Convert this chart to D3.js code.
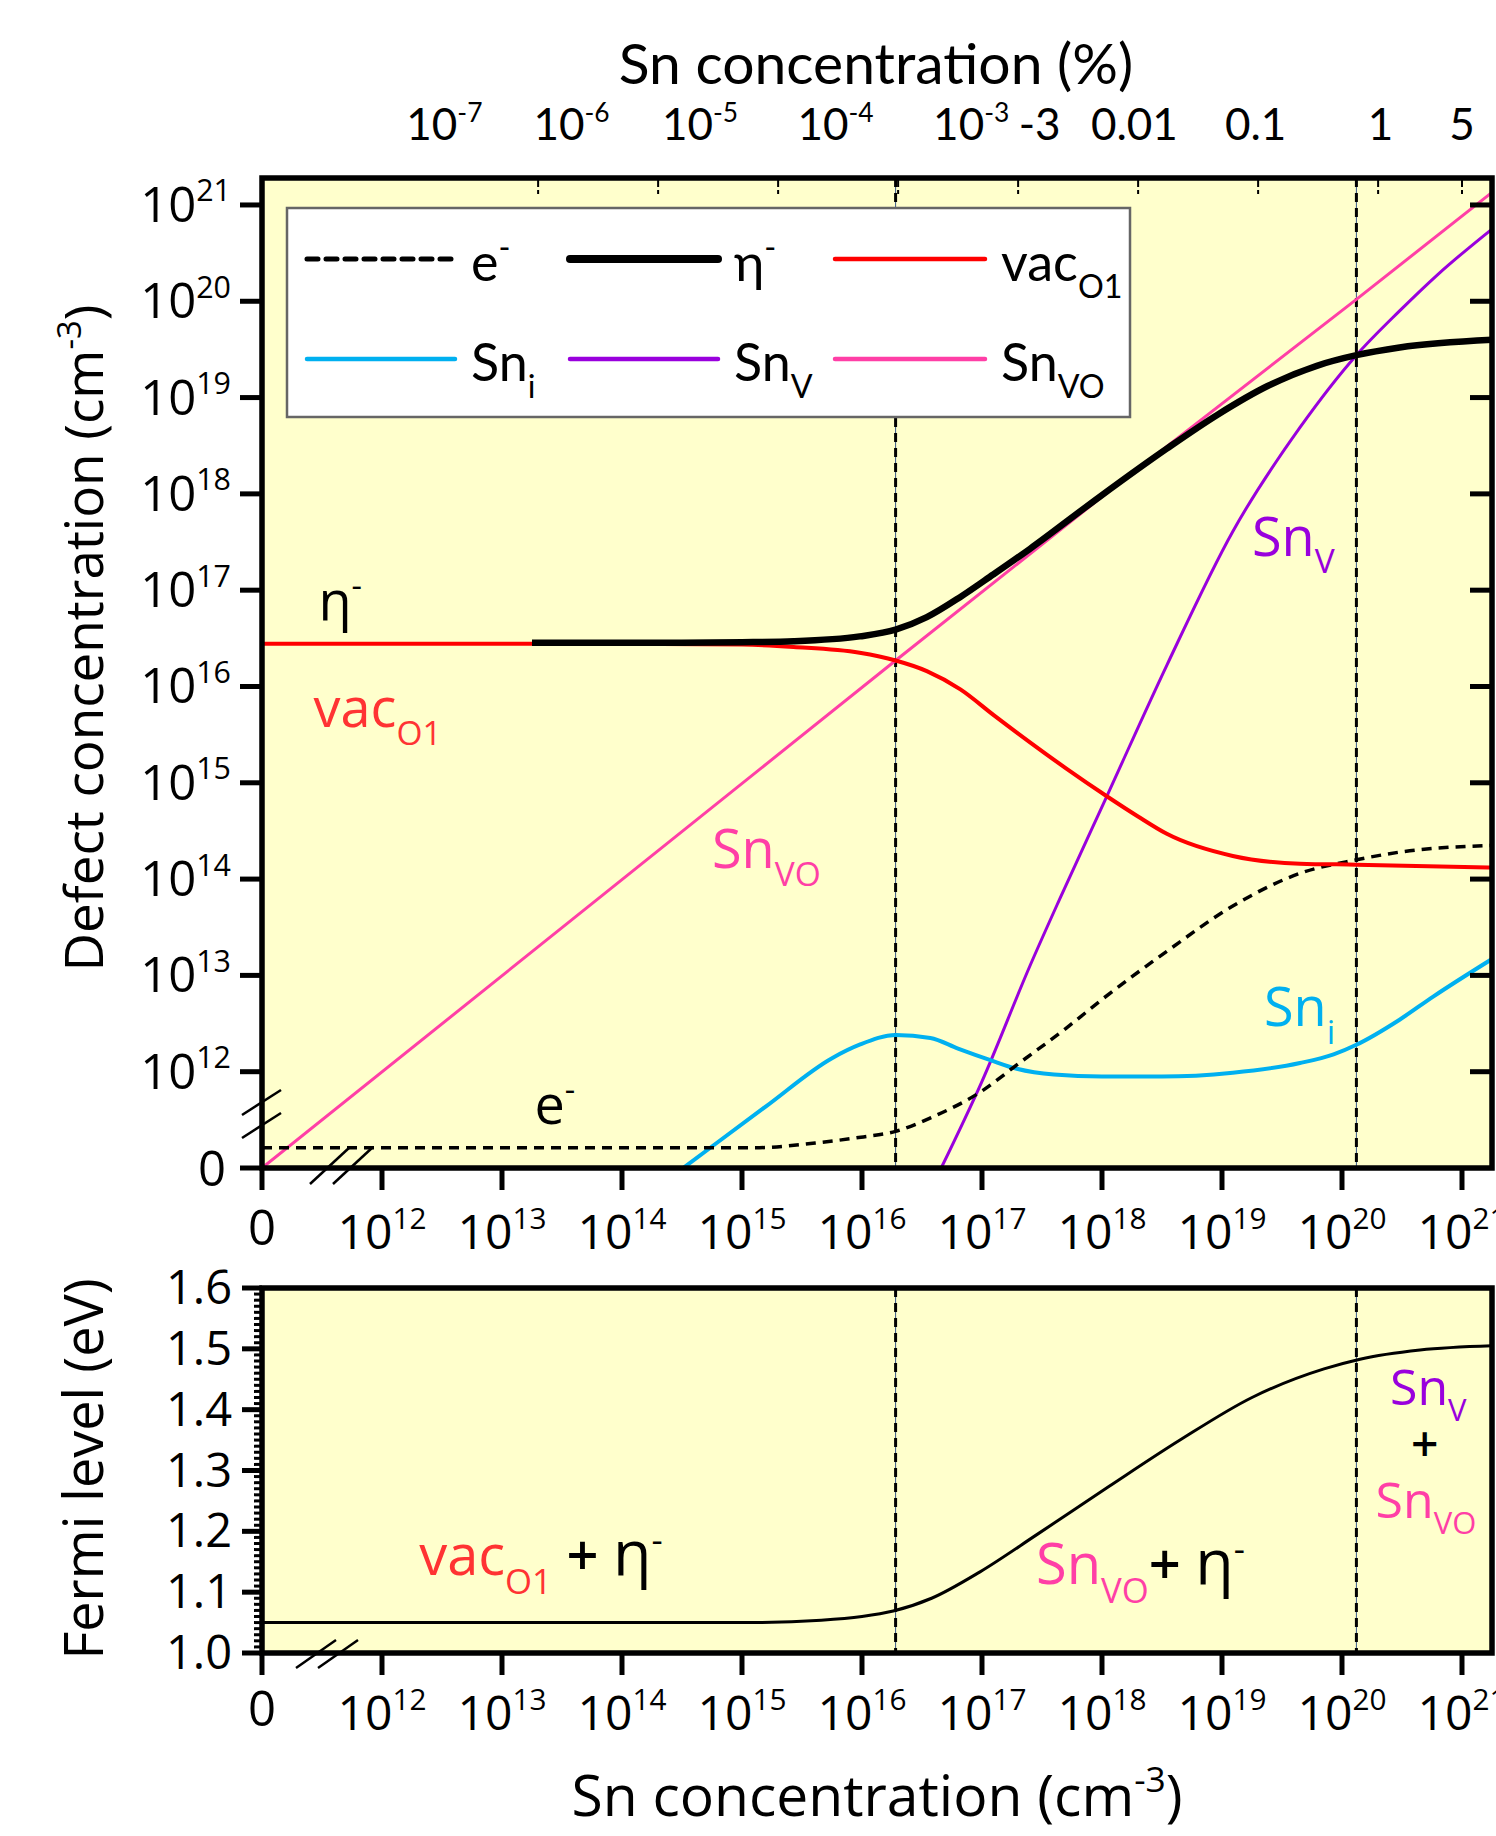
<!DOCTYPE html>
<html><head><meta charset="utf-8">
<script src="https://cdn.jsdelivr.net/npm/d3@7"></script>
<style>body{margin:0;background:#fff;} svg{display:block;}</style>
</head><body>
<svg id="chart" width="1496" height="1836"></svg>
<script>
// ---------------- DATA (log10 values of Sn concentration / defect concentration, cm^-3) ----------------
const xTickExps = [11, 12, 13, 14, 15, 16, 17, 18, 19, 20, 21];   // 11 is labelled "0" (axis break)
const yTickExps = [11, 12, 13, 14, 15, 16, 17, 18, 19, 20, 21];   // 11 is labelled "0"
const fermiTicks = [1.0, 1.1, 1.2, 1.3, 1.4, 1.5, 1.6];
const pctTicks = [1e-7, 1e-6, 1e-5, 1e-4, 1e-3, 0.01, 0.1, 1, 5];   // Sn concentration in %
const pctLabels = [
  {base: "10", sup: "-7", at: 12.52}, {base: "10", sup: "-6", at: 13.58},
  {base: "10", sup: "-5", at: 14.65}, {base: "10", sup: "-4", at: 15.78},
  {base: "10", sup: "-3", at: 16.91}, {base: "-3", sup: "", at: 17.48},
  {base: "0.01", sup: "", at: 18.27}, {base: "0.1", sup: "", at: 19.28},
  {base: "1", sup: "", at: 20.32}, {base: "5", sup: "", at: 21.0}
];
const pctToCm3 = 2e22 / 100;            // 100 % Sn = 2e22 cm^-3
const regimeBounds = [16.28, 20.12];    // dashed vertical lines (log10 Sn)

// series: [log10 Sn, log10 concentration]
const eMinus = [[11,11.21],[15.1,11.21],[15.61,11.26],[15.99,11.32],[16.28,11.38],[16.57,11.52],[17.0,11.8],[17.3,12.08],[17.7,12.45],[18.0,12.75],[18.54,13.25],[19.09,13.72],[19.65,14.06],[20.12,14.2],[20.48,14.28],[21.25,14.35]];
const etaMinus = [[13.25,16.455],[14.5,16.455],[15.0,16.46],[15.43,16.47],[15.98,16.52],[16.28,16.59],[16.54,16.72],[16.82,16.93],[17.09,17.16],[17.4,17.43],[17.98,17.97],[18.54,18.47],[18.96,18.82],[19.38,19.12],[19.79,19.33],[20.12,19.44],[20.48,19.52],[21.25,19.6]];
const vacO1 = [[11,16.445],[14,16.445],[15,16.435],[15.43,16.41],[15.98,16.35],[16.28,16.27],[16.54,16.16],[16.82,15.97],[17.1,15.7],[17.4,15.42],[17.7,15.15],[18.04,14.86],[18.3,14.65],[18.54,14.47],[19.09,14.24],[19.65,14.16],[20.12,14.15],[21.25,14.12]];
const snI = [[14.51,11.0],[14.8,11.27],[15.2,11.64],[15.75,12.14],[15.98,12.28],[16.28,12.38],[16.57,12.35],[16.8,12.24],[17.07,12.12],[17.29,12.03],[17.6,11.97],[18.0,11.95],[18.5,11.95],[19.09,11.99],[19.65,12.09],[19.93,12.18],[20.12,12.28],[20.48,12.54],[20.76,12.78],[21.25,13.17]];
const snV = [[16.66,11.0],[17.0,11.9],[17.4,13.1],[17.65,13.8],[18.04,14.86],[18.54,16.22],[19.09,17.61],[19.65,18.69],[20.12,19.44],[20.48,19.9],[20.8,20.28],[21.25,20.75]];
const snVO = [[11,11],[16.28,16.27],[17.98,17.95],[20.12,20.02],[21.25,21.13]];
const fermi = [[11,1.05],[15.0,1.05],[15.66,1.054],[16.0,1.06],[16.26,1.069],[16.58,1.09],[16.98,1.133],[17.46,1.195],[18.06,1.274],[18.65,1.35],[19.25,1.42],[19.85,1.467],[20.15,1.483],[20.65,1.498],[21.25,1.505]];

// ---------------- LAYOUT ----------------
const SEG = "'Open Sans','Noto Sans',sans-serif";
const CAL = "Lato,'Noto Sans',sans-serif";
const C = {red:"#ff0000", blue:"#00b0f0", purple:"#9900dd", pink:"#ff3fa6", redT:"#ff3333"};
const L = 262, R = 1492;
const T1 = 178, B1 = 1168, T2 = 1288, B2 = 1653;
const P = v => Math.pow(10, v);

const x = d3.scaleLog().domain([P(11), P(21.25)]).range([L, R]);
const y = d3.scaleLog().domain([P(11), P(21.28)]).range([B1, T1]);
const yF = d3.scaleLinear().domain([1.0, 1.6]).range([B2, T2]);

const svg = d3.select("#chart");

function rich(textSel, parts, size) {
  let shift = 0;
  parts.forEach(p => {
    const ts = textSel.append("tspan").text(p.t);
    const target = p.sub ? size * 0.33 : p.sup ? -size * 0.42 : 0;
    ts.attr("dy", target - shift); shift = target;
    if (p.sub || p.sup) ts.attr("font-size", size * (p.k || 0.62));
    else if (p.k) ts.attr("font-size", size * p.k);
    if (p.fill) ts.attr("fill", p.fill);
    if (p.dx) ts.attr("dx", p.dx);
    if (p.bold) ts.attr("font-weight", 600);
  });
  return textSel;
}
function label(g, px, py, parts, size, font, anchor, fill) {
  const t = g.append("text").attr("x", px).attr("y", py)
    .attr("font-family", font).attr("font-size", size)
    .attr("text-anchor", anchor || "start").attr("fill", fill || "#000");
  return rich(t, parts, size);
}

// ---------------- PANEL BACKGROUNDS ----------------
svg.append("rect").attr("x", L).attr("y", T1).attr("width", R - L).attr("height", B1 - T1).attr("fill", "#ffffcc");
svg.append("rect").attr("x", L).attr("y", T2).attr("width", R - L).attr("height", B2 - T2).attr("fill", "#ffffcc");

// regime boundaries
[[T1, B1], [T2, B2]].forEach(([t, b]) => {
  regimeBounds.forEach(v => {
    svg.append("line").attr("x1", x(P(v))).attr("x2", x(P(v))).attr("y1", t).attr("y2", b)
      .attr("stroke", "#3a5a8a").attr("stroke-width", 1);
    svg.append("line").attr("x1", x(P(v))).attr("x2", x(P(v))).attr("y1", t).attr("y2", b)
      .attr("stroke", "#000").attr("stroke-width", 3).attr("stroke-dasharray", "9,6");
  });
});

// ---------------- TOP PANEL CURVES ----------------
svg.append("clipPath").attr("id", "clipTop").append("rect")
  .attr("x", L).attr("y", T1).attr("width", R - L).attr("height", B1 - T1);
const gTop = svg.append("g").attr("clip-path", "url(#clipTop)");

const series = [
  {data: snVO, color: C.pink, w: 3, curve: d3.curveLinear},
  {data: snV, color: C.purple, w: 3},
  {data: snI, color: C.blue, w: 4},
  {data: eMinus, color: "#000", w: 3.5, dash: "10,7"},
  {data: vacO1, color: C.red, w: 4},
  {data: etaMinus, color: "#000", w: 6.5}
];
series.forEach(s => {
  const gen = d3.line().x(d => x(P(d[0]))).y(d => y(P(d[1]))).curve(s.curve || d3.curveMonotoneX);
  gTop.append("path").attr("d", gen(s.data)).attr("fill", "none")
    .attr("stroke", s.color).attr("stroke-width", s.w)
    .attr("stroke-dasharray", s.dash || null).attr("stroke-linejoin", "round");
});

// in-plot labels (top)
label(svg, x(P(11.47)), y(P(16.69)), [{t: "η"}, {t: "-", sup: true, k: 0.6}], 54, SEG);
label(svg, x(P(11.43)), y(P(15.58)), [{t: "vac"}, {t: "O1", sub: true}], 54, SEG, "start", C.redT);
label(svg, x(P(14.75)), y(P(14.11)), [{t: "Sn"}, {t: "VO", sub: true}], 54, SEG, "start", C.pink);
label(svg, x(P(19.25)), y(P(17.36)), [{t: "Sn"}, {t: "V", sub: true}], 54, SEG, "start", C.purple);
label(svg, x(P(19.35)), y(P(12.47)), [{t: "Sn"}, {t: "i", sub: true}], 54, SEG, "start", C.blue);
label(svg, x(P(13.27)), y(P(11.46)), [{t: "e"}, {t: "-", sup: true, k: 0.6}], 54, SEG);

// ---------------- LEGEND ----------------
const legendItems = [
  {name: [{t: "e"}, {t: "-", sup: true}], color: "#000", w: 5, dash: "11,8"},
  {name: [{t: "η"}, {t: "-", sup: true}], color: "#000", w: 8},
  {name: [{t: "vac"}, {t: "O1", sub: true}], color: C.red, w: 4.5},
  {name: [{t: "Sn"}, {t: "i", sub: true}], color: C.blue, w: 4.5},
  {name: [{t: "Sn"}, {t: "V", sub: true}], color: C.purple, w: 4.5},
  {name: [{t: "Sn"}, {t: "VO", sub: true}], color: C.pink, w: 4.5}
];
const lg = svg.append("g");
lg.append("rect").attr("x", 287).attr("y", 208).attr("width", 843).attr("height", 209)
  .attr("fill", "#fff").attr("stroke", "#666").attr("stroke-width", 2.5);
const colX = [307, 570, 835], rowY = [259, 359];
legendItems.forEach((it, i) => {
  const cx = colX[i % 3], cy = rowY[Math.floor(i / 3)];
  const len = i % 3 === 2 ? 150 : 148;
  lg.append("line").attr("x1", cx).attr("x2", cx + len).attr("y1", cy).attr("y2", cy)
    .attr("stroke", it.color).attr("stroke-width", it.w).attr("stroke-linecap", "round")
    .attr("stroke-dasharray", it.dash || null);
  label(lg, cx + len + 16, cy + 22, it.name, 52, CAL);
});

// ---------------- TOP PANEL AXES ----------------
const ax = svg.append("g");
ax.append("rect").attr("x", L).attr("y", T1).attr("width", R - L).attr("height", B1 - T1)
  .attr("fill", "none").attr("stroke", "#000").attr("stroke-width", 5.5);
yTickExps.forEach(e => {
  const yy = y(P(e));
  ax.append("line").attr("x1", L - 22).attr("x2", L).attr("y1", yy).attr("y2", yy).attr("stroke", "#000").attr("stroke-width", 5);
  if (e > 11) ax.append("line").attr("x1", R - 22).attr("x2", R).attr("y1", yy).attr("y2", yy).attr("stroke", "#000").attr("stroke-width", 5);
  if (e === 11) label(ax, 226, yy + 18, [{t: "0"}], 49, SEG, "end");
  else label(ax, 231, yy + 17, [{t: "10"}, {t: String(e), sup: true, k: 0.62}], 49, SEG, "end");
});
function xAxisTicks(g, yAxis, labelY) {
  xTickExps.forEach(e => {
    const xx = x(P(e));
    g.append("line").attr("x1", xx).attr("x2", xx).attr("y1", yAxis).attr("y2", yAxis + 22).attr("stroke", "#000").attr("stroke-width", 5);
    if (e === 11) label(g, xx, labelY - 4, [{t: "0"}], 49, SEG, "middle");
    else label(g, xx, labelY, [{t: "10"}, {t: String(e), sup: true, k: 0.62}], 48, SEG, "middle");
  });
}
xAxisTicks(ax, B1, 1249);
pctTicks.forEach(p => {
  const xx = x(p * pctToCm3);
  ax.append("line").attr("x1", xx).attr("x2", xx).attr("y1", T1).attr("y2", T1 + 16)
    .attr("stroke", "#000").attr("stroke-width", 2).attr("stroke-dasharray", "9,3");
});
pctLabels.forEach(l => {
  const parts = [{t: l.base}];
  if (l.sup) parts.push({t: l.sup, sup: true, k: 0.6});
  label(ax, x(P(l.at)), 140, parts, 44, CAL, "middle");
});
label(ax, 876, 84, [{t: "Sn concentration (%)"}], 57, CAL, "middle");

function slash(g, x1, y1, x2, y2) {
  g.append("line").attr("x1", x1).attr("y1", y1).attr("x2", x2).attr("y2", y2).attr("stroke", "#000").attr("stroke-width", 2.5);
}
slash(ax, 310, 1184, 350, 1147); slash(ax, 333, 1184, 373, 1147);
slash(ax, 242, 1115, 281, 1090); slash(ax, 242, 1138, 281, 1113);

const yt = ax.append("text").attr("transform", "translate(103,638) rotate(-90)")
  .attr("font-family", SEG).attr("font-size", 53).attr("text-anchor", "middle");
rich(yt, [{t: "Defect concentration (cm"}, {t: "-3", sup: true, k: 0.62}, {t: ")"}], 53);

// ---------------- BOTTOM PANEL ----------------
const gBot = svg.append("g");
const lineF = d3.line().x(d => x(P(d[0]))).y(d => yF(d[1])).curve(d3.curveMonotoneX);
gBot.append("path").attr("d", lineF(fermi)).attr("fill", "none").attr("stroke", "#000").attr("stroke-width", 3);
gBot.append("rect").attr("x", L).attr("y", T2).attr("width", R - L).attr("height", B2 - T2)
  .attr("fill", "none").attr("stroke", "#000").attr("stroke-width", 5.5);
d3.range(100, 161).forEach(i => {
  const yy = yF(i / 100), major = i % 10 === 0;
  gBot.append("line").attr("x1", L - (major ? 20 : 8)).attr("x2", L).attr("y1", yy).attr("y2", yy)
    .attr("stroke", "#000").attr("stroke-width", major ? 5 : 3);
});
fermiTicks.forEach(v => label(gBot, 232, yF(v) + 16, [{t: v.toFixed(1)}], 47, SEG, "end"));
xAxisTicks(gBot, B2, 1730);
slash(gBot, 296, 1668, 336, 1640); slash(gBot, 318, 1668, 358, 1640);

gBot.append("text").attr("transform", "translate(103,1469) rotate(-90)")
  .attr("font-family", SEG).attr("font-size", 54).attr("text-anchor", "middle").text("Fermi level (eV)");
const bt = gBot.append("text").attr("x", 877).attr("y", 1816)
  .attr("font-family", SEG).attr("font-size", 57).attr("text-anchor", "middle");
rich(bt, [{t: "Sn concentration (cm"}, {t: "-3", sup: true, k: 0.62}, {t: ")"}], 57);

// regime annotations
label(gBot, x(P(12.31)), yF(1.128), [{t: "vac", fill: C.redT}, {t: "O1", sub: true, fill: C.redT}, {t: " + ", bold: true}, {t: "  η", k: 1.12}, {t: "-", sup: true}], 56, SEG);
label(gBot, x(P(17.45)), yF(1.113), [{t: "Sn", fill: C.pink}, {t: "VO", sub: true, fill: C.pink}, {t: "+ ", bold: true}, {t: " η", k: 1.12}, {t: "-", sup: true}], 56, SEG);
label(gBot, x(P(20.4)), yF(1.408), [{t: "Sn", fill: C.purple}, {t: "V", sub: true, fill: C.purple}], 50, SEG);
label(gBot, x(P(20.69)), yF(1.315), [{t: "+", bold: true}], 48, SEG, "middle");
label(gBot, x(P(20.28)), yF(1.222), [{t: "Sn", fill: C.pink}, {t: "VO", sub: true, fill: C.pink}], 50, SEG);
</script>
</body></html>
